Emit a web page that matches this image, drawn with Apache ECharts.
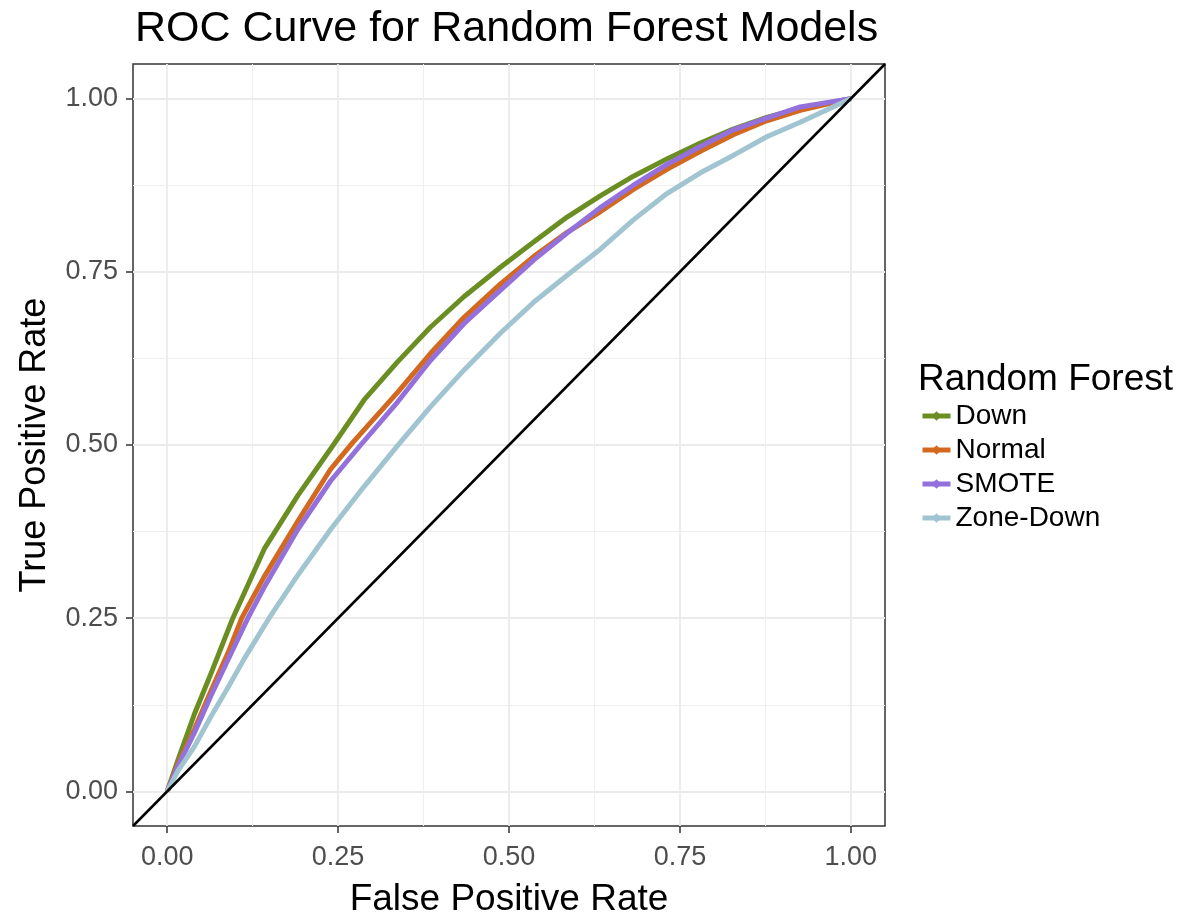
<!DOCTYPE html>
<html>
<head>
<meta charset="utf-8">
<script src="https://cdn.jsdelivr.net/npm/echarts@6/dist/echarts.min.js"></script>
<style>
  html, body { margin: 0; padding: 0; background: #fff; }
  #main { width: 1186px; height: 917px; }
</style>
</head>
<body>
<div id="main"></div>
<script>
// ROC curves
var modelNames = ['Down', 'Normal', 'SMOTE', 'Zone-Down'];
var modelColors = ['#6B8E23', '#D2691E', '#9370DB', '#A0C4D0'];

var fprDown = [0, 0.016, 0.040, 0.064, 0.096, 0.142, 0.191, 0.243, 0.288, 0.337, 0.385, 0.434, 0.488, 0.536, 0.585, 0.634, 0.682, 0.731, 0.780, 0.828, 0.877, 0.926, 1];
var tprDown = [0, 0.046, 0.112, 0.170, 0.250, 0.350, 0.427, 0.500, 0.565, 0.620, 0.670, 0.714, 0.757, 0.793, 0.829, 0.860, 0.888, 0.913, 0.936, 0.956, 0.973, 0.986, 1];

var fprNormal = [0, 0.016, 0.040, 0.064, 0.089, 0.109, 0.142, 0.191, 0.239, 0.271, 0.337, 0.385, 0.434, 0.488, 0.536, 0.585, 0.634, 0.682, 0.731, 0.780, 0.828, 0.877, 0.926, 1];
var tprNormal = [0, 0.040, 0.090, 0.145, 0.200, 0.250, 0.310, 0.390, 0.465, 0.503, 0.576, 0.632, 0.684, 0.733, 0.772, 0.807, 0.837, 0.869, 0.898, 0.924, 0.948, 0.968, 0.983, 1];

var fprSmote = [0, 0.016, 0.040, 0.064, 0.089, 0.118, 0.142, 0.191, 0.239, 0.283, 0.337, 0.385, 0.434, 0.488, 0.536, 0.585, 0.634, 0.682, 0.731, 0.780, 0.828, 0.877, 0.926, 1];
var tprSmote = [0, 0.037, 0.085, 0.138, 0.190, 0.250, 0.295, 0.378, 0.448, 0.500, 0.562, 0.622, 0.675, 0.724, 0.767, 0.806, 0.843, 0.875, 0.905, 0.931, 0.955, 0.972, 0.988, 1];

var fprZone = [0, 0.016, 0.040, 0.064, 0.089, 0.113, 0.149, 0.191, 0.239, 0.288, 0.337, 0.385, 0.434, 0.488, 0.536, 0.585, 0.634, 0.682, 0.731, 0.780, 0.828, 0.877, 0.926, 0.974, 1];
var tprZone = [0, 0.030, 0.065, 0.108, 0.150, 0.192, 0.250, 0.312, 0.378, 0.440, 0.499, 0.555, 0.608, 0.662, 0.706, 0.745, 0.783, 0.825, 0.863, 0.893, 0.918, 0.945, 0.966, 0.988, 1];

var refLine = [[-0.05, -0.05], [1.05, 1.05]];
var tickValues = [0, 0.25, 0.5, 0.75, 1];
var minorValues = [0.125, 0.375, 0.625, 0.875];

function pairs(xs, ys) {
  var out = [];
  for (var i = 0; i < xs.length; i++) out.push([xs[i], ys[i]]);
  return out;
}

var curves = [
  pairs(fprDown, tprDown),
  pairs(fprNormal, tprNormal),
  pairs(fprSmote, tprSmote),
  pairs(fprZone, tprZone)
];

var font = 'Liberation Sans, Arial, sans-serif';

function mainAxis(name, isY) {
  return {
    type: 'value',
    min: -0.05,
    max: 1.05,
    name: name,
    nameLocation: 'middle',
    nameGap: isY ? 80 : 55,
    nameTextStyle: { fontFamily: font, fontSize: isY ? 36 : 37, color: '#000' },
    axisLine: { show: false, onZero: false },
    axisTick: { show: true, inside: false, length: 7, customValues: tickValues, lineStyle: { color: '#333', width: 1.5 } },
    axisLabel: {
      customValues: tickValues,
      margin: isY ? 15 : 18,
      fontFamily: font, fontSize: 27, color: '#4D4D4D',
      formatter: function (v) { return v.toFixed(2); }
    },
    splitLine: { show: true, lineStyle: { color: '#EBEBEB', width: 1.8 } }
  };
}

function minorAxis(isY) {
  return {
    type: 'value',
    min: -0.05,
    max: 1.05,
    position: isY ? 'left' : 'bottom',
    axisLine: { show: false, onZero: false },
    axisTick: { show: false, customValues: minorValues },
    axisLabel: { show: false, customValues: minorValues },
    splitLine: { show: true, lineStyle: { color: '#EFEFEF', width: 1 } }
  };
}

var chart = echarts.init(document.getElementById('main'));

var series = [];
for (var i = 0; i < modelNames.length; i++) {
  series.push({
    name: modelNames[i],
    type: 'line',
    data: curves[i],
    smooth: false,
    symbol: 'diamond',
    symbolSize: 10,
    showSymbol: false,
    lineStyle: { width: 5, color: modelColors[i], join: 'round' },
    itemStyle: { color: modelColors[i] },
    z: 3
  });
}
series.push({
  name: 'diag',
  type: 'line',
  data: refLine,
  symbol: 'none',
  lineStyle: { width: 2.5, color: '#000' },
  z: 4,
  silent: true
});

chart.setOption({
  animation: false,
  backgroundColor: '#fff',
  title: [
    {
      text: 'ROC Curve for Random Forest Models',
      left: 130, top: 3,
      textStyle: { fontFamily: font, fontSize: 43, fontWeight: 'normal', color: '#000' }
    },
    {
      text: 'Random Forest',
      left: 913, top: 356,
      textStyle: { fontFamily: font, fontSize: 37, fontWeight: 'normal', color: '#000' }
    }
  ],
  legend: {
    data: modelNames,
    orient: 'vertical',
    left: 915, top: 397,
    itemWidth: 28, itemHeight: 12, itemGap: 6,
    lineStyle: { width: 5 },
    textStyle: { fontFamily: font, fontSize: 28, lineHeight: 28, color: '#000', padding: [0, 0, 0, 0] }
  },
  grid: [
    {
      left: 133, top: 64, width: 752, height: 762,
      outerBoundsMode: 'none',
      show: true, borderColor: '#333', borderWidth: 1.5, backgroundColor: 'transparent'
    }
  ],
  xAxis: [mainAxis('False Positive Rate', false), minorAxis(false)],
  yAxis: [mainAxis('True Positive Rate', true), minorAxis(true)],
  series: series
});
</script>
</body>
</html>
